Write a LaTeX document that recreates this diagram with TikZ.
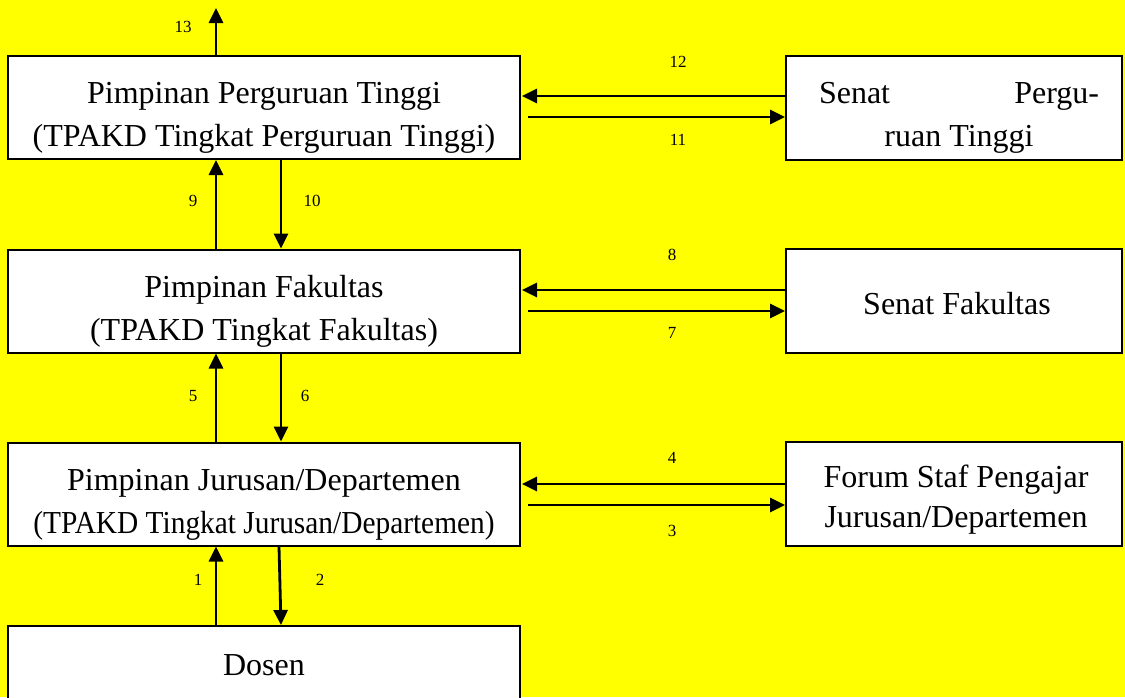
\documentclass[tikz,border=0pt]{standalone}
\usepackage{fontspec}
\setmainfont{Liberation Serif}
\usetikzlibrary{arrows.meta,calc}
\definecolor{bgyellow}{RGB}{255,255,0}
\begin{document}
\begin{tikzpicture}[x=1pt,y=-1pt,
  box/.style={draw=black,line width=2pt,fill=white,rectangle,inner sep=0pt},
  lbox/.style={box,minimum width=512pt,minimum height=103pt},
  rbox/.style={box,minimum width=336pt,minimum height=104pt},
  txt/.style={inner sep=0pt,align=center,font=\fontsize{32}{43}\selectfont},
  txtr/.style={inner sep=0pt,align=center,font=\fontsize{32}{40}\selectfont},
  arr/.style={line width=2.8pt,-{Triangle[length=15pt,width=14pt]}},
  num/.style={font=\fontsize{17}{19}\selectfont,inner sep=0pt}]
\useasboundingbox (0,0) rectangle (1125,697);
\fill[bgyellow] (0,0) rectangle (1125,697);
\clip (0,0) rectangle (1125,697);
% left boxes
\node[lbox] (pt) at (264,107.5) {};
\node[txt] (ptt) at (264,117.5) {Pimpinan Perguruan Tinggi\\(TPAKD Tingkat Perguruan Tinggi)};
\node[lbox] (fk) at (264,301) {};
\node[txt] (fkt) at (264,311.5) {Pimpinan Fakultas\\(TPAKD Tingkat Fakultas)};
\node[lbox] (jd) at (264,494) {};
\node[txt] (jdt) at (264,504.5) {Pimpinan Jurusan/Departemen\\\scalebox{0.918}[1]{(TPAKD Tingkat Jurusan/Departemen)}};
\node[lbox] (ds) at (264,677.5) {};
\node[txt] (dst) at (264,665) {Dosen};
% right boxes
\node[rbox] (spt) at (954,107.5) {};
\node[txt] (sptt) at (959,117.5) {\makebox[280pt][s]{Senat\hfill Pergu-}\\ruan Tinggi};
\node[rbox] (sf) at (954,301) {};
\node[txt] (sft) at (957,304) {Senat Fakultas};
\node[rbox] (fs) at (954,494) {};
\node[txtr] (fst) at (956,500) {Forum Staf Pengajar\\Jurusan/Departemen};
% top arrow
\coordinate (top) at (216,8);
\draw[arr] ([xshift=-48pt]pt.north) -- (top);
\node[num] (n13) at (183,27) {13};
% vertical arrows
\draw[arr] ([xshift=-48pt]fk.north) -- ([xshift=-48pt]pt.south);
\draw[arr] ([xshift=17pt]pt.south) -- ([xshift=17pt]fk.north);
\node[num] (n9) at (193,201) {9};
\node[num] (n10) at (312,201) {10};
\draw[arr] ([xshift=-48pt]jd.north) -- ([xshift=-48pt]fk.south);
\draw[arr] ([xshift=17pt]fk.south) -- ([xshift=17pt]jd.north);
\node[num] (n5) at (193,396) {5};
\node[num] (n6) at (305,396) {6};
\draw[arr] ([xshift=-48pt]ds.north) -- ([xshift=-48pt]jd.south);
\draw[arr] ([xshift=15pt]jd.south) -- ([xshift=17pt]ds.north);
\node[num] (n1) at (198,580) {1};
\node[num] (n2) at (320,580) {2};
% horizontal arrows
\draw[arr] ([yshift=11.5pt]spt.west) -- ([yshift=11.5pt,xshift=1pt]pt.east);
\draw[arr] ([yshift=-9.5pt,xshift=7pt]pt.east) -- ([yshift=-9.5pt]spt.west);
\node[num] (n12) at (678,62) {12};
\node[num] (n11) at (678,140) {11};
\draw[arr] ([yshift=11pt]sf.west) -- ([yshift=11pt,xshift=1pt]fk.east);
\draw[arr] ([yshift=-10pt,xshift=7pt]fk.east) -- ([yshift=-10pt]sf.west);
\node[num] (n8) at (672,255) {8};
\node[num] (n7) at (672,333) {7};
\draw[arr] ([yshift=10pt]fs.west) -- ([yshift=10pt,xshift=1pt]jd.east);
\draw[arr] ([yshift=-11pt,xshift=7pt]jd.east) -- ([yshift=-11pt]fs.west);
\node[num] (n4) at (672,458) {4};
\node[num] (n3) at (672,531) {3};
\end{tikzpicture}
\end{document}
